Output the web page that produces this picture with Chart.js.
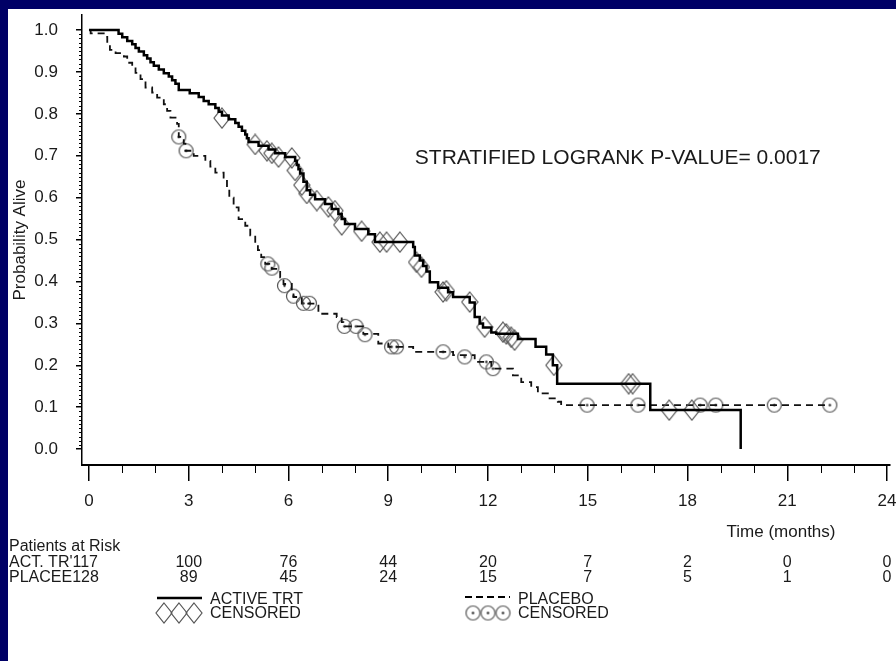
<!DOCTYPE html>
<html>
<head>
<meta charset="utf-8">
<script src="https://cdn.jsdelivr.net/npm/chart.js@4/dist/chart.umd.min.js"></script>
<style>
  html, body { margin: 0; padding: 0; background: #000066; width: 896px; height: 661px; overflow: hidden; position: relative; }
  #panel { position: absolute; left: 8px; top: 9px; width: 888px; height: 652px; background: #fff; }
  #km { position: absolute; left: 8px; top: 5px; }
</style>
</head>
<body>
<div id="panel"></div>
<canvas id="km" width="892" height="656"></canvas>
<script>
// Kaplan-Meier steps: time of event (months) -> survival after it
const activeTime = [0, 0.89, 1.0, 1.15, 1.3, 1.4, 1.5, 1.65, 1.75, 1.85, 1.95, 2.1, 2.25, 2.4, 2.5, 2.6, 2.7,
  3.03, 3.3, 3.45, 3.6, 3.8, 3.9, 4.0, 4.2, 4.4, 4.5, 4.6, 4.7, 4.75, 4.8, 5.1, 5.4, 5.6, 5.9, 6.2, 6.25, 6.3,
  6.35, 6.45, 6.55, 6.65, 6.8, 7.1, 7.3, 7.5, 7.6, 7.7, 8.0, 8.4, 8.6, 9.75, 9.8, 9.95, 10.05, 10.15, 10.25,
  10.5, 10.8, 10.95, 11.45, 11.6, 11.75, 11.85, 12.1, 12.25, 12.9, 13.43, 13.75, 13.95, 14.08, 16.88, 19.6];
const activeSurv = [1.0, 0.991, 0.983, 0.974, 0.966, 0.957, 0.949, 0.94, 0.932, 0.923, 0.915, 0.906, 0.897, 0.889, 0.88, 0.872, 0.857,
  0.849, 0.84, 0.831, 0.823, 0.814, 0.805, 0.796, 0.787, 0.778, 0.769, 0.76, 0.751, 0.742, 0.733, 0.724, 0.715, 0.706, 0.697, 0.688, 0.678, 0.668,
  0.658, 0.638, 0.618, 0.607, 0.596, 0.585, 0.573, 0.561, 0.549, 0.537, 0.525, 0.513, 0.494, 0.482, 0.462, 0.45, 0.437, 0.424, 0.398,
  0.385, 0.374, 0.363, 0.35, 0.315, 0.3, 0.29, 0.278, 0.275, 0.263, 0.244, 0.226, 0.2, 0.156, 0.093, 0.0];
const activeCensorTime = [4.0, 5.0, 5.35, 5.5, 5.7, 6.1, 6.2, 6.4, 6.55, 6.85, 7.2, 7.4, 7.6, 8.2, 8.75, 8.95, 9.35,
  9.85, 10.0, 10.65, 10.75, 11.45, 11.9, 12.45, 12.55, 12.7, 12.8, 13.98, 16.23, 16.35, 17.45, 18.13];
const activeCensorSurv = [0.79, 0.727, 0.712, 0.706, 0.697, 0.695, 0.665, 0.63, 0.61, 0.593, 0.578, 0.569, 0.535, 0.52, 0.494, 0.494, 0.494,
  0.446, 0.434, 0.375, 0.378, 0.351, 0.291, 0.279, 0.275, 0.267, 0.26, 0.2, 0.156, 0.156, 0.093, 0.093];

const placeboTime = [0, 0.05, 0.5, 0.55, 0.63, 0.8, 1.05, 1.15, 1.3, 1.4, 1.55, 1.7, 1.9, 2.05, 2.25, 2.35, 2.45, 2.65,
  2.7, 2.85, 2.9, 3.15, 3.5, 3.65, 3.8, 4.05, 4.15, 4.22, 4.35, 4.5, 4.7, 4.85, 5.0, 5.08, 5.18, 5.3, 5.5, 5.75,
  5.85, 6.1, 6.15, 6.4, 6.9, 7.45, 7.6, 7.65, 8.25, 8.7, 9.0, 9.75, 10.95, 11.6, 12.1, 12.75, 13.0, 13.3, 13.5,
  13.8, 14.1, 14.2, 22.28];
const placeboSurv = [1.0, 0.992, 0.984, 0.969, 0.953, 0.945, 0.937, 0.922, 0.914, 0.898, 0.883, 0.863, 0.851, 0.839, 0.823, 0.807, 0.791, 0.776,
  0.745, 0.729, 0.712, 0.7, 0.688, 0.674, 0.66, 0.648, 0.625, 0.6, 0.577, 0.549, 0.533, 0.51, 0.49, 0.475, 0.458, 0.442, 0.43, 0.41,
  0.394, 0.375, 0.363, 0.347, 0.323, 0.315, 0.303, 0.293, 0.275, 0.252, 0.244, 0.232, 0.224, 0.208, 0.192, 0.176, 0.16, 0.148, 0.133,
  0.121, 0.113, 0.105, 0.105];
const placeboCensorTime = [2.7, 2.92, 5.38, 5.5, 5.88, 6.15, 6.45, 6.63, 7.68, 8.03, 8.3, 9.1, 9.25, 10.65, 11.3, 11.95, 12.15,
  14.98, 16.51, 18.38, 18.85, 20.61, 22.28];
const placeboCensorSurv = [0.745, 0.712, 0.442, 0.432, 0.39, 0.365, 0.348, 0.348, 0.293, 0.293, 0.273, 0.244, 0.244, 0.232, 0.22, 0.208, 0.192,
  0.105, 0.105, 0.105, 0.105, 0.105, 0.105];

const xTickValues = [0, 3, 6, 9, 12, 15, 18, 21, 24];
const yTickValues = [0, 0.1, 0.2, 0.3, 0.4, 0.5, 0.6, 0.7, 0.8, 0.9, 1.0];
const riskTimes = [3, 6, 9, 12, 15, 18, 21, 24];
const riskActive = [100, 76, 44, 20, 7, 2, 0, 0];
const riskPlacebo = [89, 45, 24, 15, 7, 5, 1, 0];

const FONT = '"Liberation Sans", Arial, sans-serif';
const INK = '#1a1a1a';
const CANVAS_LEFT = 8, CANVAS_TOP = 5;   // canvas offset on the page

function pairs(xs, ys) { return xs.map((x, i) => ({ x: x, y: ys[i] })); }

// censor marks
function makeDiamond() {
  const c = document.createElement('canvas');
  c.width = 18; c.height = 22;
  const g = c.getContext('2d');
  g.strokeStyle = '#555'; g.lineWidth = 1.2;
  g.beginPath();
  g.moveTo(9, 1); g.lineTo(17, 11); g.lineTo(9, 21); g.lineTo(1, 11); g.closePath();
  g.stroke();
  return c;
}
function makeCircle() {
  const c = document.createElement('canvas');
  c.width = 17; c.height = 17;
  const g = c.getContext('2d');
  g.strokeStyle = '#555'; g.lineWidth = 1.2;
  g.beginPath(); g.arc(8.5, 8.5, 7, 0, Math.PI * 2); g.stroke();
  g.fillStyle = '#222';
  g.beginPath(); g.arc(8.5, 8.5, 1.2, 0, Math.PI * 2); g.fill();
  return c;
}
const diamondImg = makeDiamond();
const circleImg = makeCircle();

const extras = {
  id: 'extras',
  afterDraw(chart) {
    const ctx = chart.ctx;
    const xs = chart.scales.x, ys = chart.scales.y;
    const area = chart.chartArea;
    ctx.save();
    // minor ticks
    ctx.strokeStyle = '#000'; ctx.lineWidth = 1;
    for (let m = 0; m <= 24; m++) {
      if (m % 3 === 0) continue;
      const px = Math.round(xs.getPixelForValue(m)) + 0.5;
      ctx.beginPath(); ctx.moveTo(px, area.bottom); ctx.lineTo(px, area.bottom + 8); ctx.stroke();
    }
    for (let k = 0; k <= 100; k++) {
      if (k % 10 === 0) continue;
      const py = Math.round(ys.getPixelForValue(k / 100)) + 0.5;
      ctx.beginPath(); ctx.moveTo(area.left - 3, py); ctx.lineTo(area.left, py); ctx.stroke();
    }
    // annotation
    ctx.fillStyle = INK;
    ctx.font = '21px ' + FONT;
    ctx.textBaseline = 'middle'; ctx.textAlign = 'left';
    ctx.fillText('STRATIFIED LOGRANK P-VALUE= 0.0017', xs.getPixelForValue(9.8), ys.getPixelForValue(0.695));

    // everything below is placed in page coordinates
    ctx.translate(-CANVAS_LEFT, -CANVAS_TOP);
    ctx.font = '17px ' + FONT;
    ctx.textAlign = 'center';
    ctx.fillText('Time (months)', 781, 532);
    // risk table
    ctx.font = '16px ' + FONT;
    ctx.textAlign = 'left';
    ctx.fillText('Patients at Risk', 9, 547);
    ctx.fillText("ACT. TR'117", 9, 563);
    ctx.fillText('PLACEE128', 9, 578);
    ctx.textAlign = 'center';
    riskTimes.forEach((t, i) => {
      const px = xs.getPixelForValue(t) + CANVAS_LEFT;
      ctx.fillText(String(riskActive[i]), px, 563);
      ctx.fillText(String(riskPlacebo[i]), px, 578);
    });
    // legend
    ctx.textAlign = 'left';
    ctx.strokeStyle = '#000';
    ctx.lineWidth = 2.5;
    ctx.beginPath(); ctx.moveTo(157, 598); ctx.lineTo(202, 598); ctx.stroke();
    [164, 179, 194].forEach(cx => ctx.drawImage(diamondImg, cx - 9, 613 - 11));
    ctx.fillText('ACTIVE TRT', 210, 600);
    ctx.fillText('CENSORED', 210, 614);
    ctx.lineWidth = 2;
    ctx.setLineDash([7, 4]);
    ctx.beginPath(); ctx.moveTo(465, 597); ctx.lineTo(510, 597); ctx.stroke();
    ctx.setLineDash([]);
    [473, 488, 503].forEach(cx => ctx.drawImage(circleImg, cx - 8.5, 613 - 8.5));
    ctx.fillText('PLACEBO', 518, 600);
    ctx.fillText('CENSORED', 518, 614);
    ctx.restore();
  }
};

new Chart(document.getElementById('km'), {
  type: 'line',
  data: {
    datasets: [
      { data: pairs(activeTime, activeSurv), stepped: true, borderColor: '#000', borderWidth: 2.5, pointRadius: 0, fill: false },
      { data: pairs(activeCensorTime, activeCensorSurv), showLine: false, pointStyle: diamondImg, pointRadius: 9 },
      { data: pairs(placeboTime, placeboSurv), stepped: true, borderColor: '#111', borderWidth: 1.8, borderDash: [7, 5], pointRadius: 0, fill: false },
      { data: pairs(placeboCensorTime, placeboCensorSurv), showLine: false, pointStyle: circleImg, pointRadius: 8 }
    ]
  },
  options: {
    responsive: false,
    animation: false,
    events: [],
    layout: { padding: { top: 1, right: 2, left: 0, bottom: 0 } },
    plugins: { legend: { display: false }, tooltip: { enabled: false } },
    scales: {
      x: {
        type: 'linear', min: -0.21, max: 24.09,
        afterBuildTicks: s => { s.ticks = xTickValues.map(v => ({ value: v })); },
        afterFit: s => { s.height = 196; s.paddingLeft = 0; s.paddingRight = 0; },
        grid: { drawOnChartArea: false, color: '#000', lineWidth: 1.5, tickLength: 16 },
        border: { color: '#000', width: 2 },
        ticks: { color: INK, font: { family: FONT, size: 17 }, padding: 10, maxRotation: 0, autoSkip: false, callback: v => String(v) }
      },
      y: {
        type: 'linear', min: -0.038, max: 1.036,
        afterBuildTicks: s => { s.ticks = yTickValues.map(v => ({ value: v })); },
        afterFit: s => { s.width = 74; s.paddingTop = 0; s.paddingBottom = 0; },
        grid: { drawOnChartArea: false, color: '#000', lineWidth: 1.5, tickLength: 6 },
        border: { color: '#000', width: 1.5 },
        ticks: { color: INK, font: { family: FONT, size: 17 }, padding: 18, callback: v => v.toFixed(1) },
        title: { display: true, text: 'Probability Alive', color: INK, font: { family: FONT, size: 17 }, padding: { top: 2, bottom: 0 } }
      }
    }
  },
  plugins: [extras]
});
</script>
</body>
</html>
